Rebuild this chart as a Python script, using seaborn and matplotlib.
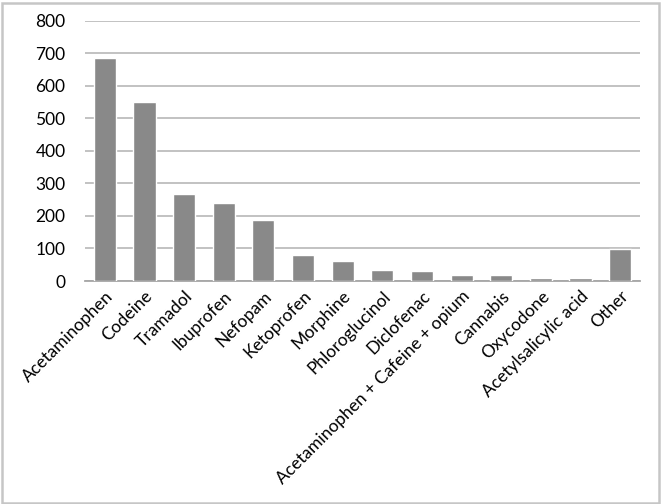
import matplotlib
matplotlib.use("Agg")
import matplotlib.pyplot as plt
import seaborn as sns
import pandas as pd
from matplotlib.patches import Rectangle

categories = ["Acetaminophen", "Codeine", "Tramadol", "Ibuprofen", "Nefopam",
              "Ketoprofen", "Morphine", "Phloroglucinol", "Diclofenac",
              "Acetaminophen + Cafeine + opium", "Cannabis", "Oxycodone",
              "Acetylsalicylic acid", "Other"]
values = [686, 549, 268, 239, 186, 81, 62, 35, 30, 19, 17, 10, 9, 98]
yticks = [0, 100, 200, 300, 400, 500, 600, 700, 800]

sns.set_theme(style="white")
plt.rcParams['font.family'] = ['Lato', 'DejaVu Sans']

df = pd.DataFrame({"drug": categories, "count": values})

fig = plt.figure(figsize=(6.62, 5.04), dpi=100)
ax = fig.add_axes([85/662, 1-281/504, (640-85)/662, (281-20.7)/504])

sns.barplot(data=df, x="drug", y="count", color="#898989", saturation=1,
            width=0.56, ax=ax, zorder=3)

ax.set_ylim(0, 800)
ax.set_xlim(-0.5, len(categories)-0.5)
ax.set_yticks(yticks)
ax.set_yticklabels([str(v) for v in yticks], fontsize=12.5, color="black")
ax.yaxis.grid(True, color="#bdbdbd", linewidth=1.3, zorder=0)
ax.set_axisbelow(True)
ax.set_xlabel("")
ax.set_ylabel("")
for s in ["top", "right", "left"]:
    ax.spines[s].set_visible(False)
ax.spines["bottom"].set_color("#a6a6a6")
ax.spines["bottom"].set_linewidth(1.3)
ax.tick_params(axis="y", length=0, pad=14)
ax.tick_params(axis="x", length=0, pad=5)
ax.set_xticks(range(len(categories)))
ax.set_xticklabels(categories, rotation=45, ha="right", rotation_mode="anchor",
                   fontsize=12.5, color="black")

fig.patches.append(Rectangle((1.5/662, 1.5/504), (659-1.5)/662, (501-1.5)/504,
                             transform=fig.transFigure, fill=False,
                             edgecolor="#c6c6c6", linewidth=1.8))

fig.savefig("out.png", dpi=100)
